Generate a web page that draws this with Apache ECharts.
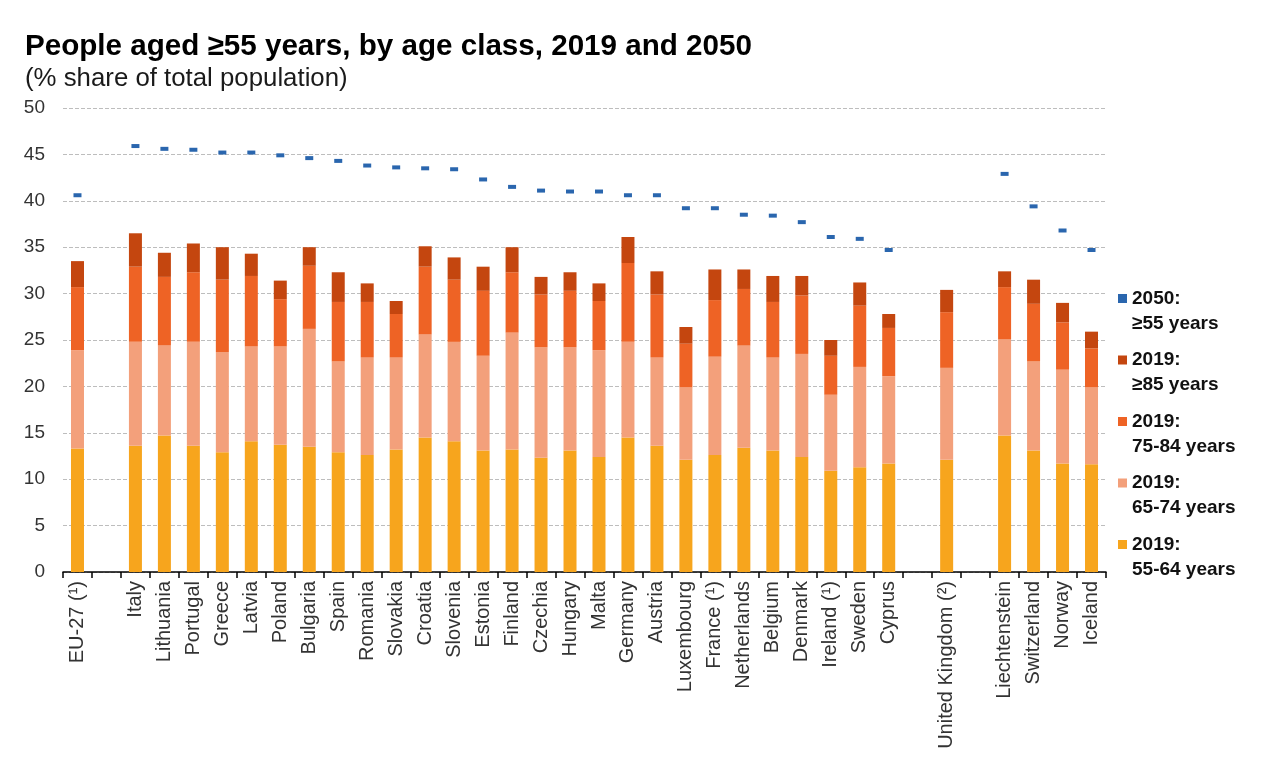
<!DOCTYPE html>
<html>
<head>
<meta charset="utf-8">
<script src="https://cdn.jsdelivr.net/npm/echarts@6/dist/echarts.min.js"></script>
<style>
html,body{margin:0;padding:0;background:#fff;}
#chart{width:1280px;height:759px;}
</style>
</head>
<body>
<div id="chart"></div>
<script>
// Categories ('' = spacer columns as in the original)
const categories = ['EU-27 (¹)', '', 'Italy', 'Lithuania', 'Portugal', 'Greece', 'Latvia', 'Poland', 'Bulgaria', 'Spain', 'Romania', 'Slovakia', 'Croatia', 'Slovenia', 'Estonia', 'Finland', 'Czechia', 'Hungary', 'Malta', 'Germany', 'Austria', 'Luxembourg', 'France (¹)', 'Netherlands', 'Belgium', 'Denmark', 'Ireland (¹)', 'Sweden', 'Cyprus', '', 'United Kingdom (²)', '', 'Liechtenstein', 'Switzerland', 'Norway', 'Iceland'];

// 2019 shares by age class (% of total population)
const age55_64 = [13.3, null, 13.6, 14.7, 13.6, 12.9, 14.1, 13.7, 13.5, 12.9, 12.6, 13.2, 14.5, 14.1, 13.1, 13.2, 12.3, 13.1, 12.4, 14.5, 13.6, 12.1, 12.6, 13.4, 13.1, 12.4, 10.9, 11.3, 11.7, null, 12.1, null, 14.7, 13.1, 11.7, 11.6];
const age65_74 = [10.6, null, 11.2, 9.7, 11.2, 10.8, 10.2, 10.6, 12.7, 9.8, 10.5, 9.9, 11.1, 10.7, 10.2, 12.6, 11.9, 11.1, 11.5, 10.3, 9.5, 7.8, 10.6, 11.0, 10.0, 11.1, 8.2, 10.8, 9.4, null, 9.9, null, 10.4, 9.6, 10.1, 8.3];
const age75_84 = [6.8, null, 8.1, 7.4, 7.5, 7.8, 7.6, 5.1, 6.8, 6.4, 6.0, 4.7, 7.3, 6.7, 7.0, 6.5, 5.7, 6.1, 5.3, 8.5, 6.8, 4.7, 6.1, 6.1, 6.0, 6.3, 4.2, 6.6, 5.2, null, 6.0, null, 5.6, 6.2, 5.1, 4.2];
const age85plus = [2.8, null, 3.6, 2.6, 3.1, 3.5, 2.4, 2.0, 2.0, 3.2, 2.0, 1.4, 2.2, 2.4, 2.6, 2.7, 1.9, 2.0, 1.9, 2.8, 2.5, 1.8, 3.3, 2.1, 2.8, 2.1, 1.7, 2.5, 1.5, null, 2.4, null, 1.7, 2.6, 2.1, 1.8];
// 2050 projection: people aged >=55
const age55plus2050 = [40.6, null, 45.9, 45.6, 45.5, 45.2, 45.2, 44.9, 44.6, 44.3, 43.8, 43.6, 43.5, 43.4, 42.3, 41.5, 41.1, 41.0, 41.0, 40.6, 40.6, 39.2, 39.2, 38.5, 38.4, 37.7, 36.1, 35.9, 34.7, null, null, null, 42.9, 39.4, 36.8, 34.7];

const yTicks = [0, 5, 10, 15, 20, 25, 30, 35, 40, 45, 50];

const names = {
  s2050: '2050:\n≥55 years',
  s85: '2019:\n≥85 years',
  s75: '2019:\n75-84 years',
  s65: '2019:\n65-74 years',
  s55: '2019:\n55-64 years'
};
const colors = {
  s2050: '#2a66ae',
  s85: '#c4460f',
  s75: '#ee6325',
  s65: '#f3a07b',
  s55: '#f7a51d'
};

const chart = echarts.init(document.getElementById('chart'), null, {renderer: 'canvas'});
const FONT = 'Liberation Sans, Arial, sans-serif';

function barSeries(key, data) {
  return {
    name: names[key], type: 'bar', stack: 'y2019', data: data,
    barWidth: 13, itemStyle: {color: colors[key], opacity: 1}, z: 2
  };
}

const option = {
  backgroundColor: '#fff',
  animation: false,
  textStyle: {fontFamily: FONT},
  title: [
    {text: 'People aged ≥55 years, by age class, 2019 and 2050', left: 20, top: 27,
     textStyle: {fontFamily: FONT, fontSize: 29.6, fontWeight: 'bold', color: '#000'}},
    {text: '(% share of total population)', left: 20, top: 61,
     textStyle: {fontFamily: FONT, fontSize: 25.8, fontWeight: 'normal', color: '#1a1a1a'}}
  ],
  legend: {
    orient: 'vertical', left: 1113, top: 281,
    itemWidth: 9, itemHeight: 50, itemGap: 11.5,
    icon: 'path://M0,0h0.01M0,8h9v9h-9zM0,50h0.01',
    data: [names.s2050, names.s85, names.s75, names.s65, names.s55],
    textStyle: {fontFamily: FONT, fontSize: 19, fontWeight: 'bold', color: '#111', lineHeight: 25},
    selectedMode: false
  },
  grid: {left: 63, right: 174, top: 108, bottom: 187},
  xAxis: {
    type: 'category', data: categories,
    axisLine: {show: true, lineStyle: {color: '#000', width: 1.5}},
    axisTick: {show: true, length: 6, lineStyle: {color: '#000', width: 1.5}},
    axisLabel: {rotate: 90, interval: 0, fontSize: 20, color: '#333', margin: 9, fontFamily: FONT}
  },
  yAxis: {
    type: 'value', min: yTicks[0], max: yTicks[yTicks.length - 1], interval: 5,
    axisLine: {show: false}, axisTick: {show: false},
    axisLabel: {fontSize: 19, color: '#333', margin: 18, fontFamily: FONT},
    splitLine: {show: true, lineStyle: {color: '#bdbdbd', type: [4, 2], width: 1}}
  },
  series: [
    barSeries('s55', age55_64),
    barSeries('s65', age65_74),
    barSeries('s75', age75_84),
    barSeries('s85', age85plus),
    {
      name: names.s2050, type: 'scatter', data: age55plus2050,
      symbol: 'rect', symbolSize: [8, 4],
      itemStyle: {color: colors.s2050, opacity: 1}, z: 5
    }
  ]
};
chart.setOption(option);
</script>
</body>
</html>
